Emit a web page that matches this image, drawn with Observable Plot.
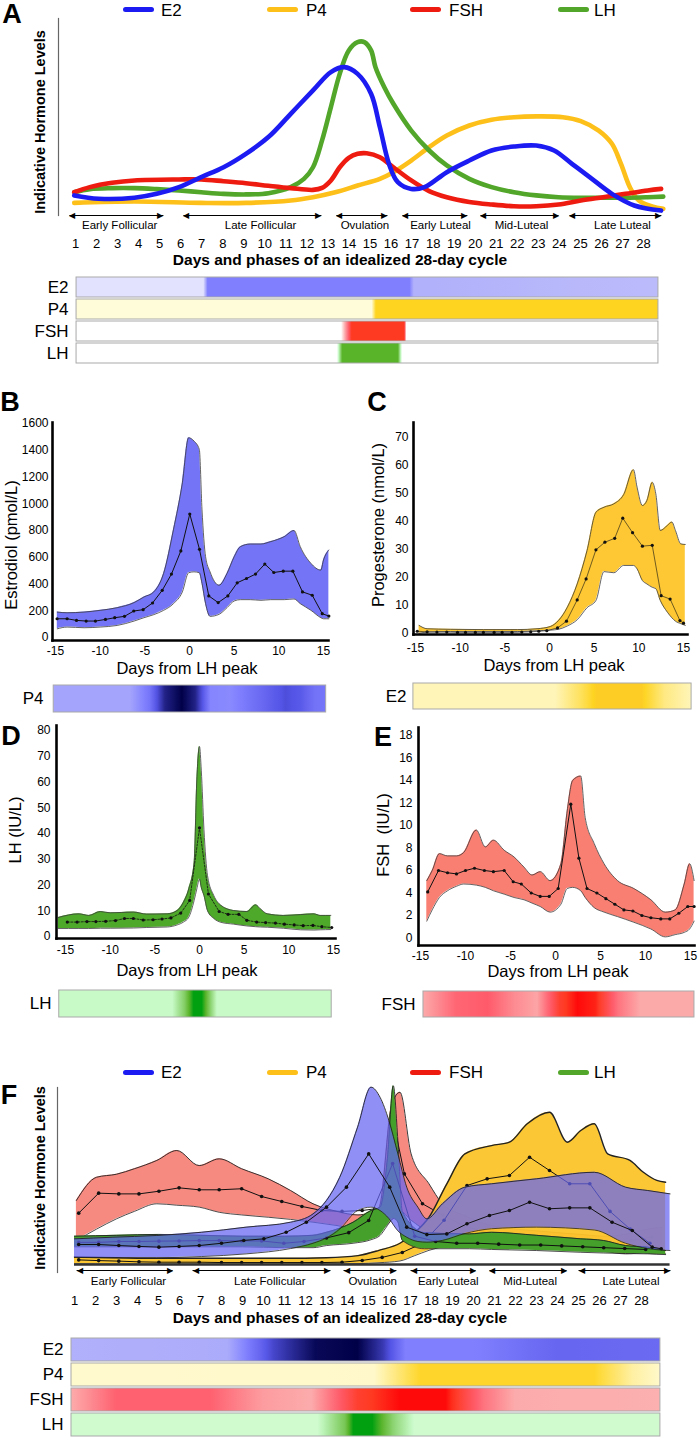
<!DOCTYPE html>
<html><head><meta charset="utf-8">
<script src="https://cdn.jsdelivr.net/npm/d3@7"></script>
<script src="https://cdn.jsdelivr.net/npm/@observablehq/plot@0.6"></script>
<style>
html,body{margin:0;padding:0;background:#fff;}
#root{position:relative;width:700px;height:1440px;overflow:hidden;background:#fff;font-family:"Liberation Sans",Arial,Helvetica,sans-serif;}
</style></head><body><div id="root"></div>
<script>
// ---------------- DATA ----------------
const hormones = ["E2","P4","FSH","LH"];
const cycleDays = [1,2,3,4,5,6,7,8,9,10,11,12,13,14,15,16,17,18,19,20,21,22,23,24,25,26,27,28];
const lhTicks = [-15,-10,-5,0,5,10,15];
const phaseNames = ["Early Follicular","Late Follicular","Ovulation","Early Luteal","Mid-Luteal","Late Luteal"];
const phaseStartA = [0.71,6.13,13.4,16.54,20.25,24.48];
const phaseEndA   = [5.18,12.69,15.83,19.63,23.96,28.85];
const phaseMidA   = [3.1,9.8,14.76,18.35,22.2,27.0];
const phaseStartF = [1.1,6.62,13.81,17.0,20.76,25.0];
const phaseEndF   = [5.67,13.19,16.33,20.1,24.43,29.38];
const phaseMidF   = [3.57,10.3,15.2,18.8,22.7,27.5];

// Panel A idealized curves (day, indicative level 0-100)
const aE2Day = [0.94,2.1,3.8,4.86,5.92,6.98,8.04,9.1,10.17,11.23,12.29,13.14,13.77,14.41,15.05,15.47,15.9,16.32,16.96,17.59,18.65,19.72,20.78,21.84,22.9,23.75,24.6,25.44,26.5,27.56,28.84];
const aE2Lvl = [10.2,8.5,9,11,14.4,19.5,24.5,31.3,39.8,51.6,63.5,72.8,75.3,71.9,61.8,44.8,26.2,16.9,13.5,14.4,22,27.9,33,35,35.5,33,26.2,19.5,11,5.1,2.5];
const aP4Day = [0.94,3.8,6.98,9.1,11.23,12.29,13.35,14.41,15.47,16.11,16.96,17.81,18.65,19.72,20.78,21.84,22.9,24.17,25.02,25.87,26.5,26.93,27.35,27.78,28.41,28.94];
const aP4Lvl = [6.4,7.1,6.4,6.4,7.6,9.3,11.8,15.2,18.6,22.0,27.9,34.7,40.6,45.7,48.6,49.9,50.3,49.9,47.9,43.1,36.4,26.2,14.4,7.6,4.6,3.4];
const aFSHDay = [0.94,1.68,2.74,3.8,5.92,6.98,8.04,9.1,10.17,11.23,12.29,12.72,13.14,13.56,13.99,14.41,14.84,15.47,16.11,16.96,17.81,18.65,19.72,20.78,21.84,22.9,23.96,25.02,26.08,27.14,28.2,28.84];
const aFSHLvl = [11.8,14.4,16.6,17.8,18.3,18.3,17.4,16.4,15.1,13.9,13.0,14.0,17.8,24.5,29.3,31.3,31.6,29.6,24.5,17.8,12.4,9.3,6.9,5.6,4.7,4.7,5.6,7.6,9.3,11.0,12.7,13.5];
const aLHDay = [0.94,1.68,2.74,3.8,4.86,5.92,6.98,8.04,9.1,10.17,11.23,11.86,12.29,12.72,13.14,13.56,13.99,14.41,14.73,15.05,15.26,15.68,16.11,16.96,17.81,18.65,19.72,20.78,21.84,22.9,23.96,25.02,26.08,27.14,28.2,28.94];
const aLHLvl = [11.8,13.4,13.9,13.9,13.4,12.7,11.8,11.0,10.7,11.3,14.4,18.6,24.5,38.1,55.0,71.9,83.8,88.0,88.0,83.8,75.3,65.1,56.7,43.1,33.0,25.4,18.6,14.4,11.8,10.2,9.3,9.0,9.0,9.0,9.3,9.6];

// Panel B: estradiol (pmol/L) vs days from LH peak
const bMeanDay = [-14.82,-13.7,-12.65,-11.57,-10.53,-9.41,-8.37,-7.28,-6.24,-5.19,-4.14,-3.05,-2.02,-0.97,0.03,1.12,2.16,3.21,4.29,5.34,6.38,7.39,8.43,9.44,10.49,11.57,12.65,13.74,14.86,15.6];
const bMeanVal = [140,140,128,123,123,135,148,158,198,208,258,353,474,647,923,659,311,261,311,409,441,474,549,486,496,496,341,316,178,160];
const bBandDay = [-14.8,-13.7,-11.8,-10.0,-8.1,-6.2,-5.1,-4.0,-2.9,-1.8,-0.8,-0.1,0.5,1.1,1.4,1.8,2.3,3.3,4.2,5.0,5.7,6.8,8.0,9.1,10.6,11.7,12.4,13.6,14.7,15.0,15.6];
const bBandLow  = [65,78,73,78,90,123,148,171,203,253,341,484,491,484,404,253,158,173,223,273,283,283,278,283,283,288,253,203,148,140,140];
const bBandHigh = [190,185,190,203,223,261,303,341,479,805,1156,1494,1469,1406,955,604,491,391,479,604,679,699,699,717,754,800,679,554,504,579,654];

// Panel C: progesterone (nmol/L)
const cMeanDay = [-14.8,-13.7,-12.6,-11.5,-10.3,-9.4,-8.3,-7.4,-6.2,-5.3,-4.2,-3.1,-2.1,-1.2,-0.3,0.9,1.9,3.1,4.1,5.2,6.2,7.3,8.2,9.3,10.4,11.5,12.5,13.5,14.6,15.0];
const cMeanVal = [0.8,0.6,0.5,0.5,0.4,0.4,0.4,0.4,0.4,0.4,0.4,0.5,0.6,0.8,1.0,2.0,4.4,12.0,19.5,29.9,32.6,34.0,41.2,36.0,31.2,31.5,13.5,12.3,4.6,3.7];
const cBandDay = [-14.6,-13.7,-11.1,-7.4,-3.6,-1.4,0.1,1.0,2.0,3.1,4.2,5.2,6.1,7.2,8.3,9.4,9.8,10.4,10.9,11.5,11.9,12.4,13.2,13.7,14.1,14.7,15.2];
const cBandLow  = [0.1,0.5,0.7,0.7,0.7,1.0,1.2,1.5,2.7,4.9,9.2,11.8,22.1,21.7,24.3,24.3,23.1,18.9,17.7,16.5,16.0,11.8,7.6,5.6,4.4,3.5,2.9];
const cBandHigh = [2.9,1.7,1.5,1.4,1.4,1.7,2.5,4.6,9.4,17.7,29.6,43.3,45.1,46.3,49.6,58.5,52.3,45.7,47.5,54.0,49.9,36.8,38.6,39.8,36.8,32.0,31.8];

// Panel D: LH (IU/L)
const dMeanDay = [-14.8,-13.7,-12.6,-11.6,-10.5,-9.4,-8.4,-7.4,-6.3,-5.2,-4.2,-3.2,-2.1,-1.1,0,1.0,2.2,3.2,4.4,5.3,6.4,7.4,8.5,9.5,10.6,11.6,12.7,13.7,14.8];
const dMeanVal = [5.6,5.6,5.8,5.8,5.9,6.2,7.0,7.0,6.4,6.5,6.8,7.2,9.1,14.0,42.2,16.5,9.7,8.6,8.6,6.3,5.6,5.4,5.2,4.8,4.5,4.2,4.3,3.8,3.5];
const dBandDay = [-15.8,-13.5,-12.4,-11.1,-10.0,-7.4,-5.9,-3.6,-2.5,-1.8,-1.2,-0.6,-0.3,0,0.2,0.5,0.9,1.6,2.4,3.8,5.3,6.3,6.8,7.6,9.4,11.3,12.8,13.5,14.7];
const dBandLow  = [3.1,3.1,3.1,3.2,3.2,3.3,3.5,3.7,4.5,5.6,7.5,14,18.5,22.3,19,15.9,10,7,5.5,4.8,4.1,3.8,3.7,3.6,3.2,2.6,2.5,2.6,2.7];
const dBandHigh = [7.4,8.8,8.2,9.7,9.2,9.5,8.7,8.8,10.1,13.3,18.5,28.7,60.8,73.8,64.6,41.5,23.6,15.9,12.1,10.1,9.7,12.3,10.8,8.8,8.2,8.5,8.8,8.2,8.2];

// Panel E: FSH (IU/L)
const eMeanDay = [-14.2,-13.0,-12.0,-11.0,-10.0,-9.0,-7.9,-6.9,-5.7,-4.7,-3.8,-2.7,-1.7,-0.7,0.3,1.7,2.6,3.5,4.6,5.6,6.6,7.6,8.6,9.6,10.6,11.7,12.7,13.7,14.7,15.4];
const eMeanVal = [4.1,6.0,5.8,5.7,6.0,6.2,6.0,5.9,6.0,5.0,4.8,4.0,3.7,3.7,4.4,11.9,7.1,4.4,4.0,3.5,3.0,2.5,2.4,2.0,1.8,1.7,1.7,2.2,2.8,2.8];
const eBandDay = [-14.3,-13.7,-12.9,-12.0,-11.0,-10.2,-8.8,-7.8,-6.9,-5.7,-4.6,-3.5,-2.6,-1.7,-0.6,0.6,1.3,1.9,2.8,3.3,4.3,5.4,6.9,8.7,10.6,12.2,13.3,14.3,14.9,15.4];
const eBandLow  = [1.5,2.5,3.6,4.2,4.6,4.8,4.7,4.5,4.2,3.9,3.6,3.4,3.1,2.8,2.3,3.0,4.4,4.5,4.2,3.6,2.7,2.3,1.9,1.4,0.8,0.1,0.3,0.5,0.8,1.5];
const eBandHigh = [5.1,6.0,7.5,7.3,7.3,7.6,9.6,8.1,8.7,7.8,7.2,6.3,5.6,5.9,5.1,6.6,11.3,14.0,14.4,10.7,8.4,6.6,5.1,4.4,3.4,2.3,2.5,4.8,6.6,5.1];

// Panel F: data mapped onto the 28-day cycle (indicative level 0-100)
const fE2BandDay = [1.0,2.79,4.92,7.04,9.17,11.29,12.36,13.0,13.63,14.48,15.12,15.55,15.97,16.4,16.82,17.35,17.78,18.52,19.59,20.86,22.99,25.75,27.24,28.3,29.36];
const fE2BandLow = [4.0,3.8,3.8,4.5,6.0,9.0,12.0,15.0,20.0,30.5,32.4,30.5,26.0,19.0,15.4,13.0,12.6,13.6,17.5,20.2,21.1,19.5,12.0,9.0,7.9];
const fE2BandHigh = [14.5,15.4,16.4,18.2,21.1,23.9,28.6,36.2,49.3,77.6,100.2,94.5,81.4,62.5,43.7,32.4,25.8,34.3,43.7,45.6,48.4,52.1,43.7,41.8,39.9];
const fE2MeanDay = [1.2,2.15,3.11,4.07,5.02,5.98,6.94,8.0,9.06,10.02,11.08,12.04,13.0,13.95,15.01,16.01,16.82,17.78,18.73,19.69,20.76,21.71,22.67,23.62,24.58,25.54,26.6,27.56,28.51,28.94];
const fE2MeanVal = [11.3,11.3,10.7,10.2,9.8,10.2,10.7,12.0,13.6,14.5,18.2,23.9,32.4,43.7,62.5,43.7,21.1,16.9,17.3,23.0,27.7,30.5,35.2,31.5,32.0,32.0,23.9,19.2,9.8,8.9];
const fP4BandDay = [1.0,3,5,7,9,11,13,14.5,15.5,16.5,17.2,17.88,18.73,19.59,20.86,21.71,22.56,23.62,24.47,25.11,25.75,26.39,27.45,28.09,28.73,29.15];
const fP4BandLow = [0.4,0.3,0.3,0.3,0.3,0.3,0.3,0.5,1.0,2.0,5.0,8.0,10.7,13.6,15.4,16.4,16.4,15.5,14.5,12.6,11.0,8.9,6.9,6.5,6.0,6.0];
const fP4BandHigh = [4.2,3.8,3.5,3.5,3.5,3.5,3.8,5.0,8.0,12.0,18.0,26.7,45.6,62.5,67.2,69.1,79.5,86.0,69.1,75.7,79.5,62.5,58.8,52.1,47.5,46.5];
const fP4MeanDay = [1.2,2.15,3.11,4.07,5.02,5.98,6.94,8.0,8.96,9.91,10.87,11.83,12.78,13.74,14.7,15.65,16.61,17.57,18.6,19.69,20.65,21.71,22.67,23.62,24.58,25.54,26.5,27.46,28.4];
const fP4MeanVal = [2.6,2.2,1.9,1.5,1.3,1.3,1.3,1.1,1.1,1.1,1.1,1.1,1.1,1.3,2.3,4.0,6.8,12,25,44.6,48.4,50.3,60.6,53.1,45.6,45.6,30,20,12];
const fFSHBandDay = [1.09,2.05,3.0,3.85,4.92,5.87,6.94,7.89,8.96,10.23,11.29,12.36,13.5,14.5,15.5,16.1,16.5,17.03,17.88,18.52,19.5,20.86,22.99,25.11,26.18,27.24,28.3,29.0];
const fFSHBandLow = [13.6,20.0,25.8,30.0,34.3,33.5,32.4,29.5,28.0,26.7,25.5,23.9,22.0,20.0,20.0,25.0,30.0,25.0,18.0,14.0,12.0,11.0,9.5,8.5,7.5,6.0,7.0,8.0];
const fFSHBandHigh = [36.2,49.3,51.0,54.1,58.8,64.4,55.9,59.7,54.1,48.4,41.8,34.3,30.0,28.0,32.0,90.0,97.3,62.5,45.6,34.3,28.0,22.0,19.0,17.0,16.0,17.0,20.0,21.0];
const fFSHMeanDay = [1.2,2.15,3.11,4.07,5.02,5.98,6.94,7.89,8.96,9.91,10.87,11.83,12.78,13.74,14.7,15.65,16.2,16.71,17.57,18.52,19.5,20.5,21.5,22.5,23.5,24.5,25.5,26.5,27.5,28.5];
const fFSHMeanVal = [29,40.3,39.9,39.9,41.4,43.3,42.2,42.2,42.8,38.4,35.6,32.8,30.5,30,30.5,32,80,51.2,34.3,28,22,18.5,16,15,14,13,12.5,12,13.5,15.5];
const fLHBandDay = [1.0,3,5,7,9,11,12.36,13.0,14.27,15.12,15.55,15.9,16.18,16.4,16.61,17.67,19.8,20.86,22.99,25.11,26.18,27.24,28.3,29.15];
const fLHBandLow = [10,10,10,10,10,9.5,9.5,10.7,12,14,16.4,22,26,23.9,13.6,8.9,8.9,8.5,7.9,6.9,6.5,6.2,6.0,5.6];
const fLHBandHigh = [16,16.5,17,16.5,16,16,16.5,18.2,23.9,30.5,32.4,60,101,70,30,18,17.3,18.2,16.5,14.5,13.6,10.7,9.8,7.9];
const fLHMeanDay = [1.2,2.15,3.11,4.07,5.02,5.98,6.94,7.89,8.96,9.91,10.97,11.93,13.0,14.06,15.01,16.15,17.2,18.2,19.2,20.2,21.2,22.2,23.2,24.2,25.2,26.2,27.2,28.2];
const fLHMeanVal = [12.5,12.5,13,13,13.2,13.3,13.5,13.5,13.3,13.3,12.0,13.0,15.0,18.0,24.9,57,16,13,12,12,11.5,11,11,10.5,10,9.5,9,8.5];

// Heat-strip intensities (0..1) along the x axis of each strip
const stripA = {
  E2:  {day:[1.05,7.1,7.3,16.9,17.1,28.71], v:[0.08,0.08,0.5,0.5,0.3,0.25]},
  P4:  {day:[1.05,15.1,15.3,28.71], v:[0.05,0.05,0.9,0.9]},
  FSH: {day:[1.05,13.65,14.15,16.65,16.75,28.71], v:[0,0,0.9,0.9,0,0]},
  LH:  {day:[1.05,13.45,13.7,16.35,16.55,28.71], v:[0,0,0.8,0.8,0,0]}
};
const stripB = {day:[-15.2,-6.6,-4.4,-2.7,-0.8,0.7,2.4,4.6,8.0,10.8,12.4,14.1,15.3], v:[0.35,0.35,0.55,0.88,1,0.88,0.48,0.46,0.6,0.72,0.68,0.56,0.55]};
const stripC = {day:[-15.12,0.5,3.5,5,10,12.5,15.45], v:[0.2,0.2,0.65,0.95,0.95,0.45,0.2]};
const stripD = {day:[-15.7,-3,-1.6,-0.6,0.3,1.2,2.0,14.8], v:[0.25,0.25,0.6,1,1,0.6,0.25,0.25]};
const stripE = {day:[-14.67,-11,-7.5,-4.5,-2,0.5,2.5,4.5,7,9.5,15.44], v:[0.33,0.6,0.65,0.45,0.35,0.85,1,0.95,0.55,0.33,0.33]};
const stripF = {
  E2:  {day:[0.857,8.3,10.5,12.5,14.5,15.7,16.8,20,24,28.9], v:[0.3,0.32,0.75,0.97,1,0.8,0.5,0.5,0.62,0.6]},
  P4:  {day:[0.857,15.3,17.5,25.8,27.6,28.9], v:[0.1,0.12,0.85,0.85,0.3,0.12]},
  FSH: {day:[0.857,3,7.5,10,12.3,14.5,16.5,18.7,20.5,22,28.9], v:[0.32,0.62,0.62,0.38,0.32,0.85,1,1,0.55,0.32,0.3]},
  LH:  {day:[0.857,12.6,13.9,14.3,15.2,16.2,17.2,28.9], v:[0.22,0.22,0.65,1,1,0.55,0.22,0.22]}
};

// ---------------- STYLE / HELPERS ----------------
const FONT = '"Liberation Sans", Arial, Helvetica, sans-serif';
const root = document.getElementById("root");
const lineColor = {E2:"#1c1cf2", P4:"#fdc01a", FSH:"#ee1b10", LH:"#52a62a"};
const ramps = {
  E2: d3.scaleLinear().domain([0,0.3,0.5,0.7,1]).range(["#f4f4ff","#b0b0fb","#8080ff","#5454e6","#000048"]),
  P4: d3.scaleLinear().domain([0,0.9,1]).range(["#fffee4","#fed420","#fcc62a"]),
  FSH: d3.scaleLinear().domain([0,0.3,0.65,0.9,1]).range(["#ffffff","#fcb0b0","#ff5a6a","#ff3a22","#ff0a0a"]),
  LH: d3.scaleLinear().domain([0,0.25,0.8,1]).range(["#ffffff","#c8fac8","#5ab42a","#00a010"])
};
const baseStyle = (size) => ({background:"none", fontFamily:FONT, fontSize:size, color:"#000", overflow:"visible"});
const pts = (xs, ys) => xs.map((x,i) => ({x, v: ys[i]}));
const band = (xs, lo, hi) => xs.map((x,i) => ({x, lo: lo[i], hi: hi[i]}));
const phases = (s, e, m) => phaseNames.map((name,i) => ({name, start:s[i], end:e[i], mid:m[i]}));

function place(el, left, top) {
  el.style.position = "absolute"; el.style.left = left + "px"; el.style.top = top + "px";
  root.appendChild(el);
}
function label(text, x, y, o = {}) {
  const d = document.createElement("div");
  d.textContent = text;
  const size = o.size || 16, weight = o.weight || "normal", anchor = o.anchor || "middle";
  d.style.cssText = `position:absolute;left:${x}px;top:${y}px;font-family:${FONT};font-size:${size}px;font-weight:${weight};line-height:1;white-space:pre;color:#000;`;
  const tx = anchor === "start" ? "0" : anchor === "end" ? "-100%" : "-50%";
  d.style.transform = o.rotate ? `translate(-50%,-50%) rotate(${o.rotate}deg)` : `translate(${tx},-50%)`;
  root.appendChild(d);
}
function legend(y) {
  const lx = {E2:123, P4:267, FSH:410, LH:558}, tx = {E2:161, P4:306, FSH:449, LH:594};
  hormones.forEach(h => {
    const l = document.createElement("div");
    l.style.cssText = `position:absolute;left:${lx[h]}px;top:${y-2.5}px;width:31px;height:5px;border-radius:3px;background:${lineColor[h]};`;
    root.appendChild(l);
    label(h, tx[h], y, {size:17, anchor:"start"});
  });
}
let gid = 0;
function addGradient(svg, id, days, vals, ramp) {
  const ns = "http://www.w3.org/2000/svg";
  let defs = svg.querySelector("defs");
  if (!defs) { defs = document.createElementNS(ns, "defs"); svg.insertBefore(defs, svg.firstChild); }
  const g = document.createElementNS(ns, "linearGradient");
  g.setAttribute("id", id); g.setAttribute("x1","0"); g.setAttribute("x2","1"); g.setAttribute("y1","0"); g.setAttribute("y2","0");
  const d0 = days[0], d1 = days[days.length-1];
  for (let i = 0; i < days.length; i++) {
    const n = i < days.length - 1 ? 6 : 1;
    for (let s = 0; s < n; s++) {
      const t = s / n;
      const day = i < days.length - 1 ? days[i] + t * (days[i+1] - days[i]) : days[i];
      const v = i < days.length - 1 ? vals[i] + t * (vals[i+1] - vals[i]) : vals[i];
      const st = document.createElementNS(ns, "stop");
      st.setAttribute("offset", ((day - d0) / (d1 - d0)).toFixed(4));
      st.setAttribute("stop-color", ramp(v));
      g.appendChild(st);
    }
  }
  defs.appendChild(g);
}
function stripPlot(cfg) {
  const rows = cfg.rows;
  const chart = Plot.plot({
    width: cfg.width, height: cfg.height, marginLeft: cfg.mL, marginRight: cfg.mR, marginTop: 3, marginBottom: 3,
    style: baseStyle("17px"),
    x: {domain: cfg.domain, insetLeft: cfg.iL || 0, insetRight: cfg.iR || 0, axis: null},
    y: {domain: rows.map(r => r.label), paddingInner: cfg.pi || 0, paddingOuter: 0, tickSize: 0, tickPadding: cfg.pad, label: null},
    marks: rows.map(r => Plot.barX([r], {x1: d => d.day[0], x2: d => d.day[d.day.length-1], y: "label", fill: "#dddddd", stroke: "#a9a9a9", strokeWidth: 1}))
  });
  const groups = chart.querySelectorAll('g[aria-label="bar"]');
  rows.forEach((r, i) => {
    const id = "grad" + (++gid);
    addGradient(chart, id, r.day, r.v, ramps[r.ramp]);
    if (groups[i]) {
      groups[i].setAttribute("fill", `url(#${id})`);
      groups[i].querySelectorAll("rect").forEach(el => el.setAttribute("fill", `url(#${id})`));
    }
  });
  place(chart, cfg.left, cfg.top);
}

// ---------------- PANEL A ----------------
label("A", 12, 14, {size:27, weight:"bold"});
legend(9.5);
const aCurves = {P4:[aP4Day,aP4Lvl], LH:[aLHDay,aLHLvl], FSH:[aFSHDay,aFSHLvl], E2:[aE2Day,aE2Lvl]};
const phA = phases(phaseStartA, phaseEndA, phaseMidA);
const chartA = Plot.plot({
  width:700, height:270, marginLeft:58, marginRight:57, marginTop:18, marginBottom:55,
  style: baseStyle("13px"),
  x: {domain:[1,28], insetLeft:17, ticks:cycleDays, tickSize:0, tickPadding:23.4, tickFormat:d => String(d), label:null},
  y: {domain:[0,100], axis:null},
  marks: [
    Plot.frame({anchor:"left", stroke:"#666", strokeWidth:1.2}),
    ...Object.entries(aCurves).map(([h,[xs,ys]]) => Plot.line(pts(xs,ys), {x:"x", y:"v", stroke:lineColor[h], strokeWidth:4.6, strokeLinecap:"round", curve:"catmull-rom"})),
    Plot.link(phA, {x1:"start", x2:"end", y1:0, y2:0, stroke:"#000", strokeWidth:1}),
    Plot.text(phA, {x:"start", y:0, text:() => "\u25C0", textAnchor:"start", fontSize:8}),
    Plot.text(phA, {x:"end", y:0, text:() => "\u25B6", textAnchor:"end", fontSize:8}),
    Plot.text(phA, {x:"mid", text:"name", frameAnchor:"bottom", dy:13.5, fontSize:11.5})
  ]
});
place(chartA, 0, 0);
label("Indicative Hormone Levels", 40, 122, {size:14.5, weight:"bold", rotate:-90});
label("Days and phases of an idealized 28-day cycle", 340, 260, {size:15.5, weight:"bold"});
stripPlot({left:0, top:272, width:700, height:96, mL:75, mR:57, domain:[1,28], pad:7, pi:0.08,
  rows: hormones.map(h => ({label:h, ramp:h, day:stripA[h].day, v:stripA[h].v}))});

// ---------------- PANELS B-E ----------------
function lhPanel(c) {
  const bandRows = band(c.band[0], c.band[1], c.band[2]);
  const meanRows = pts(c.mean[0], c.mean[1]);
  const chart = Plot.plot({
    width:350, height:c.height, marginLeft:c.m[0], marginRight:c.m[1], marginTop:c.m[2], marginBottom:c.m[3],
    style: baseStyle("12px"),
    x: {domain:[-15,15], insetLeft:c.inset[0], insetRight:c.inset[1], ticks:lhTicks, tickSize:0, tickPadding:c.pad[0], tickFormat:d => String(d), label:null},
    y: {domain:c.yDomain, insetTop:c.inset[2], insetBottom:c.inset[3], ticks:c.yTicks, tickSize:0, tickPadding:c.pad[1], tickFormat:d => String(d), label:null},
    marks: [
      Plot.areaY(bandRows, {x:"x", y1:"lo", y2:"hi", fill:c.fill, curve:"monotone-x"}),
      Plot.line(bandRows, {x:"x", y:"hi", stroke:"#3c3c3c", strokeWidth:0.8, curve:"monotone-x"}),
      Plot.line(bandRows, {x:"x", y:"lo", stroke:"#3c3c3c", strokeWidth:0.8, curve:"monotone-x"}),
      Plot.line(meanRows, {x:"x", y:"v", stroke:"#111", strokeWidth:c.meanWidth, strokeDasharray:c.dash}),
      Plot.dot(meanRows, {x:"x", y:"v", r:1.6, fill:"#111"}),
      Plot.frame({anchor:"left", strokeWidth:2.6}),
      Plot.frame({anchor:"bottom", strokeWidth:2.6})
    ]
  });
  place(chart, c.left, c.top);
}

// B
label("B", 10, 402, {size:27, weight:"bold"});
lhPanel({left:0, top:410, height:255, m:[52,22,12,25], inset:[3,5,1,3], pad:[6,4],
  yDomain:[0,1600], yTicks:[0,200,400,600,800,1000,1200,1400,1600], fill:"#7474f6", meanWidth:1,
  band:[bBandDay,bBandLow,bBandHigh], mean:[bMeanDay,bMeanVal]});
label("Estrodiol (pmol/L)", 11, 545, {size:16.5, rotate:-90});
label("Days from LH peak", 187, 668, {size:16.5});
stripPlot({left:0, top:682, width:350, height:33, mL:52, mR:22, iL:3, iR:5, domain:[-15,15], pad:9,
  rows:[{label:"P4", ramp:"E2", day:stripB.day, v:stripB.v}]});

// C
label("C", 377, 402, {size:27, weight:"bold"});
lhPanel({left:350, top:410, height:255, m:[63,13,12,31], inset:[2,4,15,1], pad:[9,5],
  yDomain:[0,70], yTicks:[0,10,20,30,40,50,60,70], fill:"#fdc834", meanWidth:0.6,
  band:[cBandDay,cBandLow,cBandHigh], mean:[cMeanDay,cMeanVal]});
label("Progesterone (nmol/L)", 378, 525, {size:16.5, rotate:-90});
label("Days from LH peak", 554, 665, {size:16.5});
stripPlot({left:350, top:680, width:350, height:32, mL:63, mR:13, iL:1, iR:0, domain:[-15,15], pad:7,
  rows:[{label:"E2", ramp:"P4", day:stripC.day, v:stripC.v}]});

// D
label("D", 11, 736, {size:27, weight:"bold"});
lhPanel({left:0, top:715, height:250, m:[56,15,10,27], inset:[9,2,5,2], pad:[7,6],
  yDomain:[0,80], yTicks:[0,10,20,30,40,50,60,70,80], fill:"#4ea82a", meanWidth:0.8, dash:"2,1.5",
  band:[dBandDay,dBandLow,dBandHigh], mean:[dMeanDay,dMeanVal]});
label("LH (IU/L)", 15, 830, {size:16.5, rotate:-90});
label("Days from LH peak", 187, 970, {size:16.5});
stripPlot({left:0, top:987, width:350, height:33, mL:56, mR:15, iL:9, iR:2, domain:[-15,15], pad:5,
  rows:[{label:"LH", ramp:"LH", day:stripD.day, v:stripD.v}]});

// E
label("E", 383, 737, {size:27, weight:"bold"});
lhPanel({left:350, top:715, height:255, m:[68,6,12,25], inset:[2,4,8,7.5], pad:[6,6],
  yDomain:[0,18], yTicks:[0,2,4,6,8,10,12,14,16,18], fill:"#f97f73", meanWidth:1,
  band:[eBandDay,eBandLow,eBandHigh], mean:[eMeanDay,eMeanVal]});
label("FSH  (IU/L)", 383, 835, {size:16.5, rotate:-90});
label("Days from LH peak", 558, 971, {size:16.5});
stripPlot({left:350, top:988, width:350, height:32, mL:68, mR:6, iL:2, iR:4, domain:[-15,15], pad:3,
  rows:[{label:"FSH", ramp:"FSH", day:stripE.day, v:stripE.v}]});

// ---------------- PANEL F ----------------
label("F", 9, 1095, {size:27, weight:"bold"});
legend(1072);
const fSeries = [
  {h:"FSH", band:[fFSHBandDay,fFSHBandLow,fFSHBandHigh], mean:[fFSHMeanDay,fFSHMeanVal], fill:"#f4766a", op:0.85, sw:0.9},
  {h:"P4",  band:[fP4BandDay,fP4BandLow,fP4BandHigh],   mean:[fP4MeanDay,fP4MeanVal],   fill:"#fcc42a", op:0.95, sw:1.4},
  {h:"LH",  band:[fLHBandDay,fLHBandLow,fLHBandHigh],   mean:[fLHMeanDay,fLHMeanVal],   fill:"#44a02a", op:1,    sw:0.9},
  {h:"E2",  band:[fE2BandDay,fE2BandLow,fE2BandHigh],   mean:[fE2MeanDay,fE2MeanVal],   fill:"#6464f2", op:0.72, sw:0.9}
];
const allFDays = fSeries.flatMap(s => s.band[0]);
const phF = phases(phaseStartF, phaseEndF, phaseMidF);
const fMarks = [Plot.frame({anchor:"left", stroke:"#666", strokeWidth:1.2})];
fSeries.forEach(s => {
  const b = band(s.band[0], s.band[1], s.band[2]), m = pts(s.mean[0], s.mean[1]);
  fMarks.push(Plot.areaY(b, {x:"x", y1:"lo", y2:"hi", fill:s.fill, fillOpacity:s.op, curve:"monotone-x"}));
  fMarks.push(Plot.line(b, {x:"x", y:"hi", stroke:"#222", strokeWidth:s.sw, curve:"monotone-x"}));
  fMarks.push(Plot.line(b, {x:"x", y:"lo", stroke:"#222", strokeWidth:0.8, curve:"monotone-x"}));
  fMarks.push(Plot.line(m, {x:"x", y:"v", stroke:"#111", strokeWidth:1}));
  fMarks.push(Plot.dot(m, {x:"x", y:"v", r:1.8, fill:"#111"}));
});
fMarks.push(Plot.ruleY([0], {x1:d3.min(allFDays), x2:d3.max(allFDays), stroke:"#333", strokeWidth:2.6}));
fMarks.push(Plot.link(phF, {x1:"start", x2:"end", y1:0, y2:0, dy:6, stroke:"#000", strokeWidth:1}));
fMarks.push(Plot.text(phF, {x:"start", y:0, dy:6, text:() => "\u25C0", textAnchor:"start", fontSize:8}));
fMarks.push(Plot.text(phF, {x:"end", y:0, dy:6, text:() => "\u25B6", textAnchor:"end", fontSize:8}));
fMarks.push(Plot.text(phF, {x:"mid", text:"name", frameAnchor:"bottom", dy:12.5, fontSize:11.5}));
const chartF = Plot.plot({
  width:700, height:250, marginLeft:57, marginRight:59, marginTop:7, marginBottom:58,
  style: baseStyle("13px"),
  x: {domain:[1,28], insetLeft:17, ticks:cycleDays, tickSize:0, tickPadding:23.4, tickFormat:d => String(d), label:null},
  y: {domain:[0,100], insetBottom:8, axis:null},
  marks: fMarks
});
place(chartF, 0, 1080);
label("Indicative Hormone Levels", 40, 1178, {size:14.5, weight:"bold", rotate:-90});
label("Days and phases of an idealized 28-day cycle", 340, 1318, {size:15.5, weight:"bold"});
stripPlot({left:0, top:1335, width:700, height:104, mL:74, mR:59, domain:[1,28], pad:11, pi:0.08,
  rows: hormones.map(h => ({label:h, ramp:h, day:stripF[h].day, v:stripF[h].v}))});
</script></body></html>
